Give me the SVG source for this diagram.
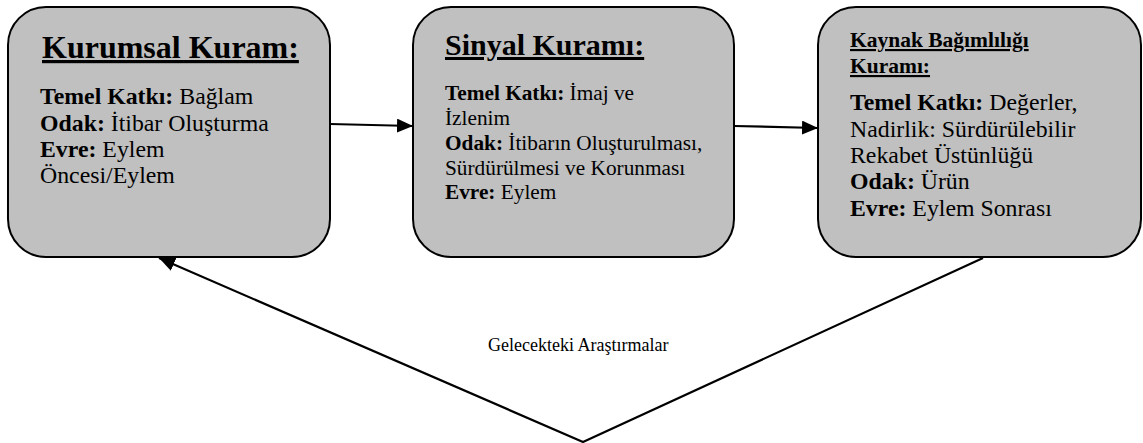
<svg xmlns="http://www.w3.org/2000/svg" width="1143" height="443" viewBox="0 0 1143 443">
<style>
.box{fill:#c0c0c0;stroke:#000;stroke-width:2}
text{font-family:"Liberation Serif","Times New Roman",serif;fill:#000}
.b{font-weight:bold}
.t1{font-size:32px;font-weight:bold;text-decoration:underline}
.t2{font-size:30px;font-weight:bold;text-decoration:underline}
.t3{font-size:21.5px;font-weight:bold;text-decoration:underline}
.body24{font-size:23.8px}
.body21{font-size:21.3px}
.conn{fill:none;stroke:#000;stroke-width:2.2}
.lbl{font-size:18px}
</style>
<defs>
<marker id="ah" viewBox="0 0 16 14" refX="16" refY="7" markerWidth="16" markerHeight="14" markerUnits="userSpaceOnUse" orient="auto">
<path d="M0,0 L16,7 L0,14 z" fill="#000"/>
</marker>
</defs>
<g id="node-kurumsal">
<rect class="box" x="8" y="7" width="322" height="250" rx="38" ry="38"/>
<text class="t1" x="42" y="58">Kurumsal Kuram:</text>
<text class="body24" x="40" y="104"><tspan class="b">Temel Katkı:</tspan> Bağlam</text>
<text class="body24" x="40" y="130.5"><tspan class="b">Odak:</tspan> İtibar Oluşturma</text>
<text class="body24" x="40" y="157"><tspan class="b">Evre:</tspan> Eylem</text>
<text class="body24" x="40" y="183">Öncesi/Eylem</text>
</g>
<g id="node-sinyal">
<rect class="box" x="413" y="7" width="321" height="250" rx="38" ry="38"/>
<text class="t2" x="445" y="55">Sinyal Kuramı:</text>
<text class="body21" x="445" y="100"><tspan class="b">Temel Katkı:</tspan> İmaj ve</text>
<text class="body21" x="445" y="124.5">İzlenim</text>
<text class="body21" x="445" y="150"><tspan class="b">Odak:</tspan> İtibarın Oluşturulması,</text>
<text class="body21" x="445" y="174.5">Sürdürülmesi ve Korunması</text>
<text class="body21" x="445" y="198.5"><tspan class="b">Evre:</tspan> Eylem</text>
</g>
<g id="node-kaynak">
<rect class="box" x="818" y="7" width="323" height="250" rx="38" ry="38"/>
<text class="t3" x="850" y="47">Kaynak Bağımlılığı</text>
<text class="t3" x="850" y="73">Kuramı:</text>
<text class="body24" x="850" y="110"><tspan class="b">Temel Katkı:</tspan> Değerler,</text>
<text class="body24" x="850" y="136.5">Nadirlik: Sürdürülebilir</text>
<text class="body24" x="850" y="163">Rekabet Üstünlüğü</text>
<text class="body24" x="850" y="189"><tspan class="b">Odak:</tspan> Ürün</text>
<text class="body24" x="850" y="215.5"><tspan class="b">Evre:</tspan> Eylem Sonrası</text>
</g>
<g id="connectors">
<line class="conn" x1="330" y1="124" x2="413" y2="126" marker-end="url(#ah)"/>
<line class="conn" x1="734" y1="126" x2="818" y2="128" marker-end="url(#ah)"/>
<polyline class="conn" points="983,258 583,442 159,258" marker-end="url(#ah)"/>
<text class="lbl" x="488" y="351">Gelecekteki Araştırmalar</text>
</g>
</svg>
